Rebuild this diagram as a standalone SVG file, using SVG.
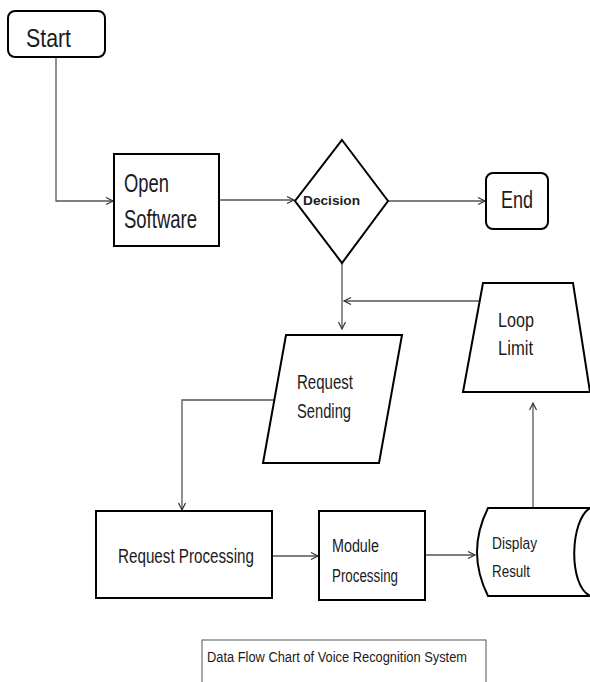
<svg xmlns="http://www.w3.org/2000/svg" width="590" height="682" viewBox="0 0 590 682">
<defs>
<marker id="arr" markerUnits="userSpaceOnUse" markerWidth="10" markerHeight="10" refX="8" refY="4" orient="auto">
<path d="M1,0.5 L8,4 L1,7.5" fill="none" stroke="#333" stroke-width="1.2"/>
</marker>
<style>
.shape{fill:#fff;stroke:#000;stroke-width:2}
.conn{fill:none;stroke:#555;stroke-width:1.3}
.t{font-family:"Liberation Sans",Arial,sans-serif;fill:#1b1b22}
</style>
</defs>
<rect width="590" height="682" fill="#fff"/>
<g id="connectors">
<path class="conn" d="M56,57 V201 H113" marker-end="url(#arr)"/>
<path class="conn" d="M219,200 H294" marker-end="url(#arr)"/>
<path class="conn" d="M388,201 H485" marker-end="url(#arr)"/>
<path class="conn" d="M342,263 V329" marker-end="url(#arr)"/>
<path class="conn" d="M479,301 H344" marker-end="url(#arr)"/>
<path class="conn" d="M274,400 H182 V510" marker-end="url(#arr)"/>
<path class="conn" d="M272,556 H318" marker-end="url(#arr)"/>
<path class="conn" d="M425,555 H475" marker-end="url(#arr)"/>
<path class="conn" d="M533,508 V403" marker-end="url(#arr)"/>
</g>
<g id="start">
<rect class="shape" x="8" y="11" width="97" height="46" rx="7"/>
<text class="t" x="26" y="47" font-size="26" textLength="45" lengthAdjust="spacingAndGlyphs">Start</text>
</g>
<g id="open-software">
<rect class="shape" x="114" y="154" width="105" height="92"/>
<text class="t" x="124" y="192" font-size="26" textLength="45" lengthAdjust="spacingAndGlyphs">Open</text>
<text class="t" x="124" y="228" font-size="25" textLength="73" lengthAdjust="spacingAndGlyphs">Software</text>
</g>
<g id="decision">
<polygon class="shape" points="342,140 388,201 342,263 295,201"/>
<text class="t" x="303" y="205" font-size="13" font-weight="bold" textLength="57" lengthAdjust="spacingAndGlyphs">Decision</text>
</g>
<g id="end">
<rect class="shape" x="486" y="173" width="62" height="56" rx="7"/>
<text class="t" x="501" y="208" font-size="23" textLength="32" lengthAdjust="spacingAndGlyphs">End</text>
</g>
<g id="request-sending">
<polygon class="shape" points="286,335 402,335 379,463 263,463"/>
<text class="t" x="297" y="389" font-size="21" textLength="56" lengthAdjust="spacingAndGlyphs">Request</text>
<text class="t" x="297" y="418" font-size="21" textLength="54" lengthAdjust="spacingAndGlyphs">Sending</text>
</g>
<g id="loop-limit">
<polygon class="shape" points="483,283 573,283 590,392 463,392"/>
<text class="t" x="498" y="327" font-size="20" textLength="36" lengthAdjust="spacingAndGlyphs">Loop</text>
<text class="t" x="498" y="355" font-size="20" textLength="35" lengthAdjust="spacingAndGlyphs">Limit</text>
</g>
<g id="request-processing">
<rect class="shape" x="96" y="511" width="176" height="87"/>
<text class="t" x="118" y="563" font-size="20" textLength="136" lengthAdjust="spacingAndGlyphs">Request Processing</text>
</g>
<g id="module-processing">
<rect class="shape" x="319" y="511" width="106" height="89"/>
<text class="t" x="332" y="552" font-size="18" textLength="47" lengthAdjust="spacingAndGlyphs">Module</text>
<text class="t" x="332" y="582" font-size="18" textLength="66" lengthAdjust="spacingAndGlyphs">Processing</text>
</g>
<g id="display-result">
<path class="shape" d="M488,508 H592 V596 H488 Q466,552 488,508 Z"/>
<path d="M590,508 C570,520 568,585 590,596" fill="none" stroke="#000" stroke-width="2"/>
<text class="t" x="492" y="549" font-size="17" textLength="45" lengthAdjust="spacingAndGlyphs">Display</text>
<text class="t" x="492" y="577" font-size="17" textLength="38" lengthAdjust="spacingAndGlyphs">Result</text>
</g>
<g id="caption">
<rect x="202" y="640" width="284" height="50" fill="#fff" stroke="#555" stroke-width="1"/>
<text class="t" x="207" y="662" font-size="14" textLength="260" lengthAdjust="spacingAndGlyphs">Data Flow Chart of Voice Recognition System</text>
</g>
</svg>
